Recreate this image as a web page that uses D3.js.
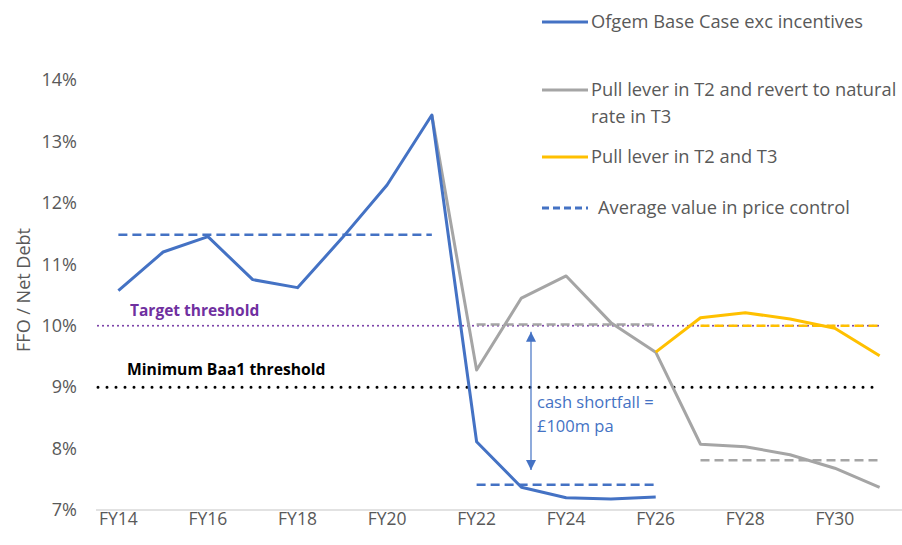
<!DOCTYPE html>
<html>
<head>
<meta charset="utf-8">
<script src="https://cdn.jsdelivr.net/npm/d3@7"></script>
<style>
  body { margin: 0; background: #fff; }
  svg text { font-family: "Open Sans", Lato, sans-serif; }
</style>
</head>
<body>
<div id="chart"></div>
<script>
var years = ["FY14", "FY15", "FY16", "FY17", "FY18", "FY19", "FY20", "FY21", "FY22",
  "FY23", "FY24", "FY25", "FY26", "FY27", "FY28", "FY29", "FY30", "FY31"];
var tickYears = ["FY14", "FY16", "FY18", "FY20", "FY22", "FY24", "FY26", "FY28", "FY30"];
var yTicks = [7, 8, 9, 10, 11, 12, 13, 14];

// Ofgem base case, FY14-FY26
var baseCase = [10.57, 11.20, 11.45, 10.75, 10.62, 11.43, 12.29, 13.43, 8.11, 7.37, 7.20, 7.18, 7.21];
// pull lever in T2, revert in T3, FY21-FY31
var leverRevert = [13.43, 9.28, 10.45, 10.81, 10.05, 9.57, 8.07, 8.03, 7.90, 7.68, 7.37];
// pull lever in T2 and T3, FY26-FY31
var leverBoth = [9.57, 10.13, 10.21, 10.11, 9.96, 9.51];

var averages = [
  { from: "FY14", to: "FY21", value: 11.48, color: "#4472C4" },
  { from: "FY22", to: "FY26", value: 7.41, color: "#4472C4" },
  { from: "FY22", to: "FY26", value: 10.02, color: "#A5A5A5" },
  { from: "FY27", to: "FY31", value: 7.81, color: "#A5A5A5" },
  { from: "FY27", to: "FY31", value: 10.0, color: "#FFC000" }
];

var width = 902, height = 545;

var svg = d3.select("#chart")
  .append("svg")
  .attr("width", width)
  .attr("height", height);

var x = d3.scaleBand()
  .domain(years)
  .range([96, 902]);

var y = d3.scaleLinear()
  .domain([7, 14])
  .range([510, 80]);

function cx(yr) {
  return x(yr) + x.bandwidth() / 2;
}

var line = d3.line()
  .x(function(d) { return cx(d.year); })
  .y(function(d) { return y(d.value); });

function series(values, startIndex) {
  return values.map(function(v, i) {
    return { year: years[startIndex + i], value: v };
  });
}

// y axis labels
svg.append("g")
  .selectAll("text")
  .data(yTicks)
  .enter()
  .append("text")
  .attr("x", 77)
  .attr("y", function(d) { return y(d); })
  .attr("dy", "0.35em")
  .style("text-anchor", "end")
  .style("font-size", "18px")
  .style("fill", "#595959")
  .text(function(d) { return d + "%"; });

svg.append("text")
  .attr("transform", "translate(24, 290) rotate(-90)")
  .attr("dy", "0.35em")
  .style("text-anchor", "middle")
  .style("font-size", "18px")
  .style("fill", "#595959")
  .text("FFO / Net Debt");

// x axis
svg.append("line")
  .attr("x1", x.range()[0])
  .attr("x2", x.range()[1])
  .attr("y1", y(7))
  .attr("y2", y(7))
  .style("stroke", "#D9D9D9")
  .style("stroke-width", 1.5);

svg.append("g")
  .selectAll("text")
  .data(tickYears)
  .enter()
  .append("text")
  .attr("x", function(d) { return cx(d); })
  .attr("y", 525)
  .style("text-anchor", "middle")
  .style("font-size", "17.5px")
  .style("fill", "#595959")
  .text(function(d) { return d; });

// thresholds
svg.append("line")
  .attr("x1", 98).attr("x2", 880)
  .attr("y1", y(10)).attr("y2", y(10))
  .style("stroke", "#7030A0")
  .style("stroke-width", 2)
  .style("stroke-linecap", "round")
  .style("stroke-dasharray", "0 5");

svg.append("line")
  .attr("x1", 98).attr("x2", 876)
  .attr("y1", y(9)).attr("y2", y(9))
  .style("stroke", "#000")
  .style("stroke-width", 3)
  .style("stroke-linecap", "round")
  .style("stroke-dasharray", "0 9");

svg.append("text")
  .attr("x", 130)
  .attr("y", y(10) - 10)
  .style("font-size", "15.5px")
  .style("font-weight", "bold")
  .style("fill", "#7030A0")
  .text("Target threshold");

svg.append("text")
  .attr("x", 127)
  .attr("y", y(9) - 12)
  .style("font-size", "15.7px")
  .style("font-weight", "bold")
  .style("fill", "#000")
  .text("Minimum Baa1 threshold");

// average dashed lines
svg.append("g")
  .selectAll("line")
  .data(averages)
  .enter()
  .append("line")
  .attr("x1", function(d) { return cx(d.from); })
  .attr("x2", function(d) { return cx(d.to); })
  .attr("y1", function(d) { return y(d.value); })
  .attr("y2", function(d) { return y(d.value); })
  .style("stroke", function(d) { return d.color; })
  .style("stroke-width", 2.5)
  .style("stroke-dasharray", "9 5");

// series lines
var lines = [
  { data: series(leverRevert, 7), color: "#A5A5A5" },
  { data: series(leverBoth, 12), color: "#FFC000" },
  { data: series(baseCase, 0), color: "#4472C4" }
];

svg.append("g")
  .selectAll("path")
  .data(lines)
  .enter()
  .append("path")
  .attr("d", function(d) { return line(d.data); })
  .style("fill", "none")
  .style("stroke", function(d) { return d.color; })
  .style("stroke-width", 3)
  .style("stroke-linejoin", "round");

// cash shortfall arrow
var arrowX = 531;
var defs = svg.append("defs");
defs.append("marker")
  .attr("id", "arrow")
  .attr("viewBox", "0 0 10 10")
  .attr("refX", 10)
  .attr("refY", 5)
  .attr("markerWidth", 10)
  .attr("markerHeight", 10)
  .attr("markerUnits", "userSpaceOnUse")
  .attr("orient", "auto-start-reverse")
  .append("path")
  .attr("d", "M0,0L10,5L0,10Z")
  .style("fill", "#4472C4");

svg.append("line")
  .attr("x1", arrowX).attr("x2", arrowX)
  .attr("y1", y(9.9)).attr("y2", y(7.65))
  .style("stroke", "#4472C4")
  .style("stroke-width", 1.2)
  .attr("marker-start", "url(#arrow)")
  .attr("marker-end", "url(#arrow)");

svg.append("text")
  .attr("x", 537)
  .attr("y", 408)
  .style("font-size", "16.5px")
  .style("fill", "#4472C4")
  .text("cash shortfall =");

svg.append("text")
  .attr("x", 537)
  .attr("y", 432)
  .style("font-size", "16.5px")
  .style("fill", "#4472C4")
  .text("£100m pa");

// legend
var legend = [
  { y: 22, color: "#4472C4", dash: null, lines: ["Ofgem Base Case exc incentives"] },
  { y: 90, color: "#A5A5A5", dash: null, lines: ["Pull lever in T2 and revert to natural", "rate in T3"] },
  { y: 157, color: "#FFC000", dash: null, lines: ["Pull lever in T2 and T3"] },
  { y: 208, color: "#4472C4", dash: "7 4", lines: [" Average value in price control"] }
];

var lg = svg.append("g")
  .selectAll("g")
  .data(legend)
  .enter()
  .append("g")
  .attr("transform", function(d) { return "translate(0," + d.y + ")"; });

lg.append("line")
  .attr("x1", 542).attr("x2", 588)
  .style("stroke", function(d) { return d.color; })
  .style("stroke-width", 3)
  .style("stroke-dasharray", function(d) { return d.dash; });

lg.each(function(d) {
  var g = d3.select(this);
  d.lines.forEach(function(t, i) {
    g.append("text")
      .attr("x", i === 0 && t[0] === " " ? 598 : 591)
      .attr("y", i * 27)
      .attr("dy", "0.35em")
      .style("font-size", "18.3px")
      .style("fill", "#595959")
      .text(t.trim());
  });
});
</script>
</body>
</html>
